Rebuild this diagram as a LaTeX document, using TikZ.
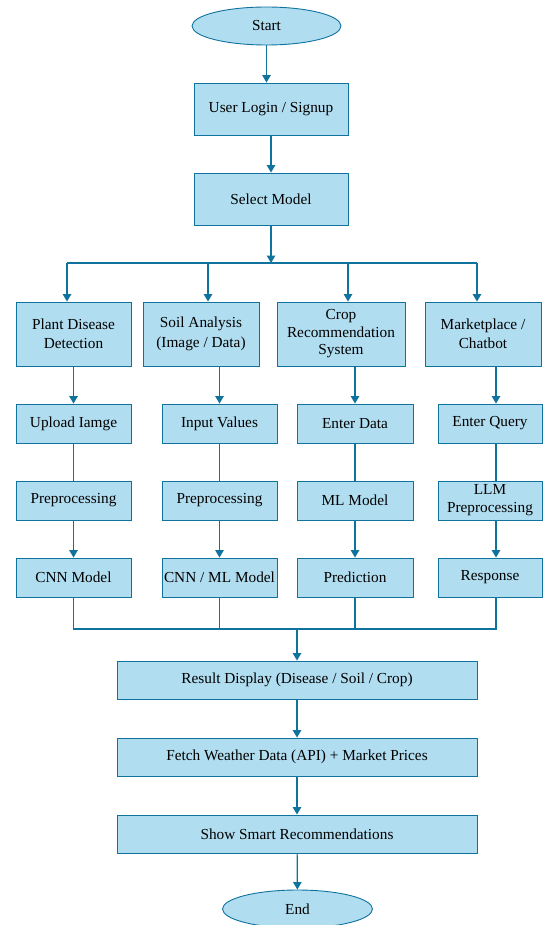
\documentclass[tikz,border=0pt]{standalone}
\usepackage{fontspec}
\setmainfont{Liberation Serif}
\usetikzlibrary{arrows.meta,shapes.geometric}
\definecolor{boxfill}{HTML}{B1DDF0}
\definecolor{boxline}{HTML}{10739E}
\begin{document}
\begin{tikzpicture}[x=1pt,y=-1pt,
  box/.style={draw=boxline,fill=boxfill,line width=0.9pt,inner sep=0.5pt,align=center,font=\fontsize{15.3}{18}\selectfont},
  arr/.style={draw=boxline,line width=1.2pt,-{Triangle[width=8.5pt,length=7.5pt]}},
  ln/.style={draw=boxline,line width=1.2pt}]
\useasboundingbox (0,0) rectangle (543,925);
% top
\node[box,ellipse,minimum width=149pt,minimum height=38pt] (start) at (266.5,26) {Start};
\node[box,minimum width=154pt,minimum height=52pt] (login) at (271,109) {User Login / Signup};
\node[box,minimum width=154pt,minimum height=52pt] (select) at (271,199) {Select Model};
% row 1
\node[box,minimum width=115pt,minimum height=64pt,font=\fontsize{15.3}{19.5}\selectfont] (pd) at (73.5,334) {Plant Disease\\Detection};
\node[box,minimum width=116pt,minimum height=64pt,font=\fontsize{15.3}{19.5}\selectfont] (sa) at (201,334) {Soil Analysis\\(Image / Data)};
\node[box,minimum width=128pt,minimum height=64pt,font=\fontsize{15.3}{17.5}\selectfont] (cr) at (341,334) {Crop\\Recommendation\\System};
\node[box,minimum width=116pt,minimum height=64pt,font=\fontsize{15.3}{19.5}\selectfont] (mp) at (483,334) {Marketplace /\\Chatbot};
% row 2
\node[box,minimum width=115pt,minimum height=39pt] (up) at (73.5,423.5) {Upload Iamge};
\node[box,minimum width=115pt,minimum height=39pt] (iv) at (219.5,423.5) {Input Values};
\node[box,minimum width=116pt,minimum height=39pt] (ed) at (355,423.5) {Enter Data};
\node[box,minimum width=104pt,minimum height=39pt] (eq) at (490,423.5) {Enter Query};
% row 3
\node[box,minimum width=115pt,minimum height=39pt] (pp1) at (73.5,500.5) {Preprocessing};
\node[box,minimum width=115pt,minimum height=39pt] (pp2) at (219.5,500.5) {Preprocessing};
\node[box,minimum width=116pt,minimum height=39pt] (ml) at (355,500.5) {ML Model};
\node[box,minimum width=104pt,minimum height=39pt,font=\fontsize{15.3}{18}\selectfont] (llm) at (490,500.5) {LLM\\Preprocessing};
% row 4
\node[box,minimum width=115pt,minimum height=39pt] (cnn) at (73.5,577.5) {CNN Model};
\node[box,minimum width=115pt,minimum height=39pt] (cml) at (219.5,577.5) {CNN / ML Model};
\node[box,minimum width=116pt,minimum height=39pt] (pred) at (355,577.5) {Prediction};
\node[box,minimum width=104pt,minimum height=39pt] (resp) at (490,577.5) {Response};
% bottom
\node[box,minimum width=360pt,minimum height=38pt] (res) at (297,680) {Result Display (Disease / Soil / Crop)};
\node[box,minimum width=360pt,minimum height=38pt] (fetch) at (297,757) {Fetch Weather Data (API) + Market Prices};
\node[box,minimum width=360pt,minimum height=38pt] (show) at (297,834) {Show Smart Recommendations};
\node[box,ellipse,minimum width=150pt,minimum height=38pt] (end) at (297.5,909) {End};
% connectors top
\draw[arr] (start) -- (start.south |- login.north);
\draw[arr] (login) -- (select);
\coordinate (bsel) at (271,263);
\draw[arr] (select) -- (bsel);
\coordinate (b1) at (67,263);
\coordinate (b2) at (208,263);
\coordinate (b3) at (348,263);
\coordinate (b4) at (477,263);
\draw[ln] (b1) -- (b4);
\draw[arr] (b1) -- (b1 |- pd.north);
\draw[arr] (b2) -- (b2 |- sa.north);
\draw[arr] (b3) -- (b3 |- cr.north);
\draw[arr] (b4) -- (b4 |- mp.north);
% row1 -> row2
\draw[arr] (pd.south) -- (up.north);
\draw[arr] (sa.south -| iv.north) -- (iv.north);
\draw[arr] (cr.south -| ed.north) -- (ed.north);
\coordinate (m4) at (496,0);
\draw[arr] (mp.south -| m4) -- (eq.north -| m4);
% row2 -> row3
\draw[ln] (up) -- (pp1);
\draw[ln] (iv) -- (pp2);
\draw[ln] (ed) -- (ml);
\draw[ln] (eq.south -| m4) -- (llm.north -| m4);
% row3 -> row4
\draw[arr] (pp1) -- (cnn);
\draw[arr] (pp2) -- (cml);
\draw[arr] (ml) -- (pred);
\draw[arr] (llm.south -| m4) -- (resp.north -| m4);
% merge
\coordinate (j1) at (73.5,629);
\coordinate (j4) at (496,629);
\coordinate (jm) at (297,629);
\draw[ln] (cnn.south) -- (j1) -- (j4) -- (resp.south -| m4);
\draw[ln] (cml.south) -- (cml.south |- j1);
\draw[ln] (pred.south) -- (pred.south |- j1);
\draw[arr] (jm) -- (res.north);
\draw[arr] (res) -- (fetch);
\draw[arr] (fetch) -- (show);
\draw[arr] (show) -- (end);
\end{tikzpicture}
\end{document}
